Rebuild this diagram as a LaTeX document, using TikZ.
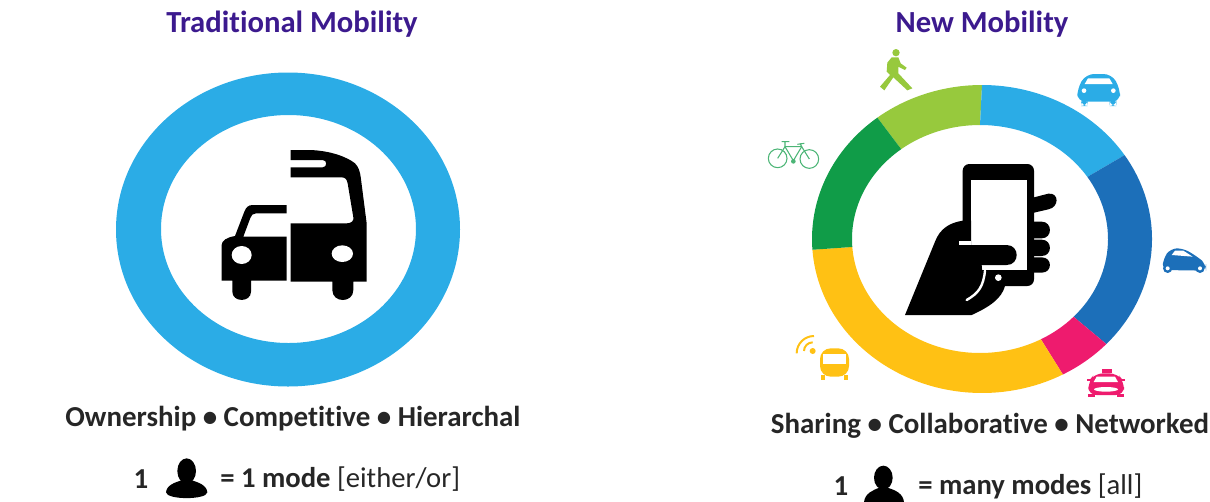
\documentclass[tikz,border=0pt]{standalone}
\usepackage{fontspec}
\setmainfont{Carlito}[Ligatures=CommonOff]
\definecolor{ringblue}{HTML}{2BACE6}
\definecolor{carblue}{HTML}{1C6FB9}
\definecolor{walkgreen}{HTML}{97C93D}
\definecolor{bikegreen}{HTML}{109C48}
\definecolor{busyellow}{HTML}{FFC114}
\definecolor{taxipink}{HTML}{EE1B6E}
\definecolor{titlepurple}{HTML}{3C1A8E}
\tikzset{
	titletext/.style={font=\bfseries\fontsize{23}{27}\selectfont, text=titlepurple, inner sep=0pt},
	wordtext/.style={font=\bfseries\fontsize{21.7}{25}\selectfont, text=black!85, inner sep=0pt},
	modetext/.style={font=\fontsize{21.5}{25}\selectfont, text=black!85, inner sep=0pt, anchor=west},
}
\def\ringpiece[#1](#2:#3){\fill[#1] ($(982,239)+({170*cos(-(#2))},{154*sin(-(#2))})$) arc (-#2:-#3:170 and 154) -- ($(980,239)+({128*cos(-(#3))},{114*sin(-(#3))})$) arc (-#3:-#2:128 and 114) -- cycle;}
\usetikzlibrary{calc}

\begin{document}
\begin{tikzpicture}[x=0.75pt, y=-0.75pt]
	%%%%% START %%%%%
	\useasboundingbox (0, 0) rectangle (1210, 501);
	\clip (0, 0) rectangle (1210, 501);

	\node[titletext] (titleold) at (292, 24) {Traditional Mobility};
	\node[titletext] (titlenew) at (982, 24) {New Mobility};

	% left ring
	\fill[ringblue, even odd rule] (288, 229.5) ellipse (172 and 157) (288.5, 229) ellipse (127.5 and 114);

	% bus and car
	\begin{scope}[shift={(190, 130)}, scale=1/3]
		\fill[black] (95, 452) -- (95, 345) .. controls (95, 332) and (110, 322) .. (135, 318) -- (163, 245) .. controls (168, 232) and (175, 225) .. (188, 225) -- (290, 225) -- (290, 250) -- (198, 250) .. controls (188, 250) and (184, 256) .. (181, 264) -- (160, 320) -- (290, 320) -- (290, 452) -- (183, 452) -- (183, 485) .. controls (183, 518) and (127, 518) .. (127, 485) -- (127, 452) -- cycle;
		\fill[black] (302, 60) -- (360, 60) .. controls (420, 62) and (470, 80) .. (495, 100) .. controls (505, 110) and (510, 125) .. (512, 140) -- (530, 280) -- (530, 455) -- (490, 455) -- (490, 480) .. controls (490, 520) and (427, 520) .. (427, 480) -- (427, 455) -- (302, 455) -- (302, 280) -- (470, 280) .. controls (485, 280) and (492, 272) .. (490, 262) -- (473, 160) .. controls (471, 148) and (465, 142) .. (455, 142) -- (302, 142) -- (302, 112) -- (398, 112) .. controls (412, 112) and (412, 90) .. (398, 90) -- (302, 90) -- cycle;
		\fill[white] (155, 375) ellipse (30 and 27);
		\fill[white] (457, 371) ellipse (32 and 25);
	\end{scope}

	% right ring
	\ringpiece[walkgreen](90:128);
	\ringpiece[ringblue](33:90);
	\ringpiece[carblue](-43:33);
	\ringpiece[taxipink](-61.6:-43);
	\ringpiece[busyellow](184:298.4);
	\ringpiece[bikegreen](128:184);

	% hand and phone
	\begin{scope}[shift={(890, 150)}, scale=1/3]
		\fill[black, rounded corners=5] (218, 42) rectangle (432, 408);
		\fill[white] (243, 90) rectangle (410, 360);
		\fill[black] (45, 495) -- (135, 275) .. controls (150, 235) and (180, 218) .. (218, 212) -- (243, 212) -- (243, 285) -- (350, 285) .. controls (390, 285) and (390, 345) .. (350, 345) -- (275, 345) -- (280, 400) -- (345, 408) .. controls (335, 445) and (300, 470) .. (245, 495) -- cycle;
		\fill[white] (208, 272) rectangle (243, 285);
		\fill[black] (432, 142) -- (475, 131) .. controls (508, 127) and (508, 172) .. (475, 178) -- (432, 188) -- cycle;
		\fill[black] (432, 215) -- (455, 215) .. controls (488, 215) and (488, 265) .. (455, 265) -- (432, 265) -- cycle;
		\fill[black] (432, 269) -- (455, 269) .. controls (488, 269) and (488, 318) .. (455, 318) -- (432, 318) -- cycle;
		\fill[black] (432, 322) -- (455, 322) .. controls (488, 322) and (488, 368) .. (455, 368) -- (432, 368) -- cycle;
		\draw[white, line width=1.8pt, line cap=round] (285, 362) .. controls (280, 410) and (265, 430) .. (230, 450);
		\fill[white] (325, 383) circle (10);
	\end{scope}

	% walker and bicycle
	\begin{scope}[shift={(750, 40)}, scale=1/3]
		\fill[walkgreen] (438, 38) circle (11);
		\fill[walkgreen] (425, 52) -- (445, 52) -- (452, 70) -- (470, 83) -- (465, 90) -- (445, 80) -- (445, 100) -- (487, 145) -- (472, 151) -- (430, 112) -- (403, 151) -- (390, 140) -- (420, 105) -- (410, 95) -- (412, 68) -- cycle;
		\draw[bikegreen!75, line width=0.8pt] (83, 355) circle (28);
		\draw[bikegreen!75, line width=0.8pt] (178, 357) circle (28);
		\draw[bikegreen!75, line width=0.8pt] (83, 355) -- (105, 320) -- (155, 320) -- (178, 357);
		\draw[bikegreen!75, line width=0.8pt] (105, 320) -- (130, 362) -- (155, 320);
		\draw[bikegreen!75, line width=0.8pt] (105, 320) -- (105, 305) (95, 305) -- (118, 305) (155, 320) -- (150, 310) (142, 313) -- (163, 310);
		\fill[bikegreen!75] (130, 364) circle (7);
	\end{scope}

	% two cars
	\begin{scope}[shift={(1000, 50)}, scale=1/3]
		\fill[ringblue, rounded corners=6] (232, 155) -- (232, 115) -- (258, 72) -- (335, 72) -- (360, 115) -- (360, 155) -- cycle;
		\fill[ringblue, rounded corners=5] (243, 145) rectangle (263, 168);
		\fill[ringblue, rounded corners=5] (329, 145) rectangle (349, 168);
		\fill[white] (264, 85) -- (328, 85) -- (338, 102) -- (254, 102) -- cycle;
		\fill[white] (252, 122) circle (7);
		\fill[white] (340, 122) circle (7);
		\fill[carblue, rounded corners=5] (487, 660) -- (490, 625) -- (512, 595) -- (550, 595) -- (592, 620) -- (618, 642) -- (618, 662) -- cycle;
		\fill[white] (515, 615) -- (525, 602) -- (550, 602) -- (578, 620) -- cycle;
		\fill[carblue] (503, 655) circle (14);
		\fill[carblue] (600, 655) circle (14);
		\fill[white] (503, 655) circle (6);
		\fill[white] (600, 655) circle (6);
	\end{scope}

	% bus with signal and taxi
	\begin{scope}[shift={(780, 320)}, scale=1/3]
		\fill[busyellow] (98, 93) circle (9);
		\draw[busyellow, line width=1.5pt] (72, 93) arc (180:270:26);
		\draw[busyellow, line width=1.5pt] (50, 100) arc (180:270:52);
		\fill[busyellow, rounded corners=8] (120, 85) rectangle (207, 170);
		\fill[busyellow] (122, 165) rectangle (136, 180);
		\fill[busyellow] (191, 165) rectangle (205, 180);
		\fill[white] (130, 102) rectangle (197, 132);
		\fill[taxipink] (965, 148) rectangle (995, 158);
		\fill[taxipink, rounded corners=6] (925, 225) -- (925, 185) -- (945, 160) -- (1012, 160) -- (1032, 185) -- (1032, 225) -- cycle;
		\fill[taxipink] (920, 176) rectangle (1036, 182);
		\fill[taxipink] (925, 222) rectangle (945, 232);
		\fill[taxipink] (1012, 222) rectangle (1032, 232);
		\fill[white] (950, 170) -- (1005, 170) -- (1014, 186) -- (941, 186) -- cycle;
		\fill[white] (978, 208) ellipse (36 and 7);
	\end{scope}

	% left words
	\node[wordtext] (wordsold) at (293, 419) {Ownership \textbullet{} Competitive \textbullet{} Hierarchal};
	\node[wordtext] (oneold) at (141, 479) {1};
	\node[modetext] (modeold) at (220, 479) {\textbf{= 1 mode} [either/or]};
	\begin{scope}[shift={(50, 395)}, scale=1/3]
		\fill[black] (410, 228) ellipse (28 and 38);
		\fill[black] (348, 292) .. controls (350, 270) and (375, 262) .. (398, 255) -- (422, 255) .. controls (445, 262) and (470, 270) .. (472, 292) .. controls (470, 315) and (350, 315) .. (348, 292) -- cycle;
	\end{scope}

	% right words
	\node[wordtext] (wordsnew) at (990, 426) {Sharing \textbullet{} Collaborative \textbullet{} Networked};
	\node[wordtext] (onenew) at (841, 486) {1};
	\node[modetext] (modenew) at (918, 486) {\textbf{= many modes} [all]};
	\begin{scope}[shift={(760, 405)}, scale=1/3]
		\fill[black] (370, 218) ellipse (28 and 36);
		\fill[black] (312, 292) .. controls (314, 265) and (340, 255) .. (358, 248) -- (382, 248) .. controls (405, 255) and (430, 265) .. (432, 292) -- cycle;
	\end{scope}
	%%%%% END %%%%%
\end{tikzpicture}
\end{document}
